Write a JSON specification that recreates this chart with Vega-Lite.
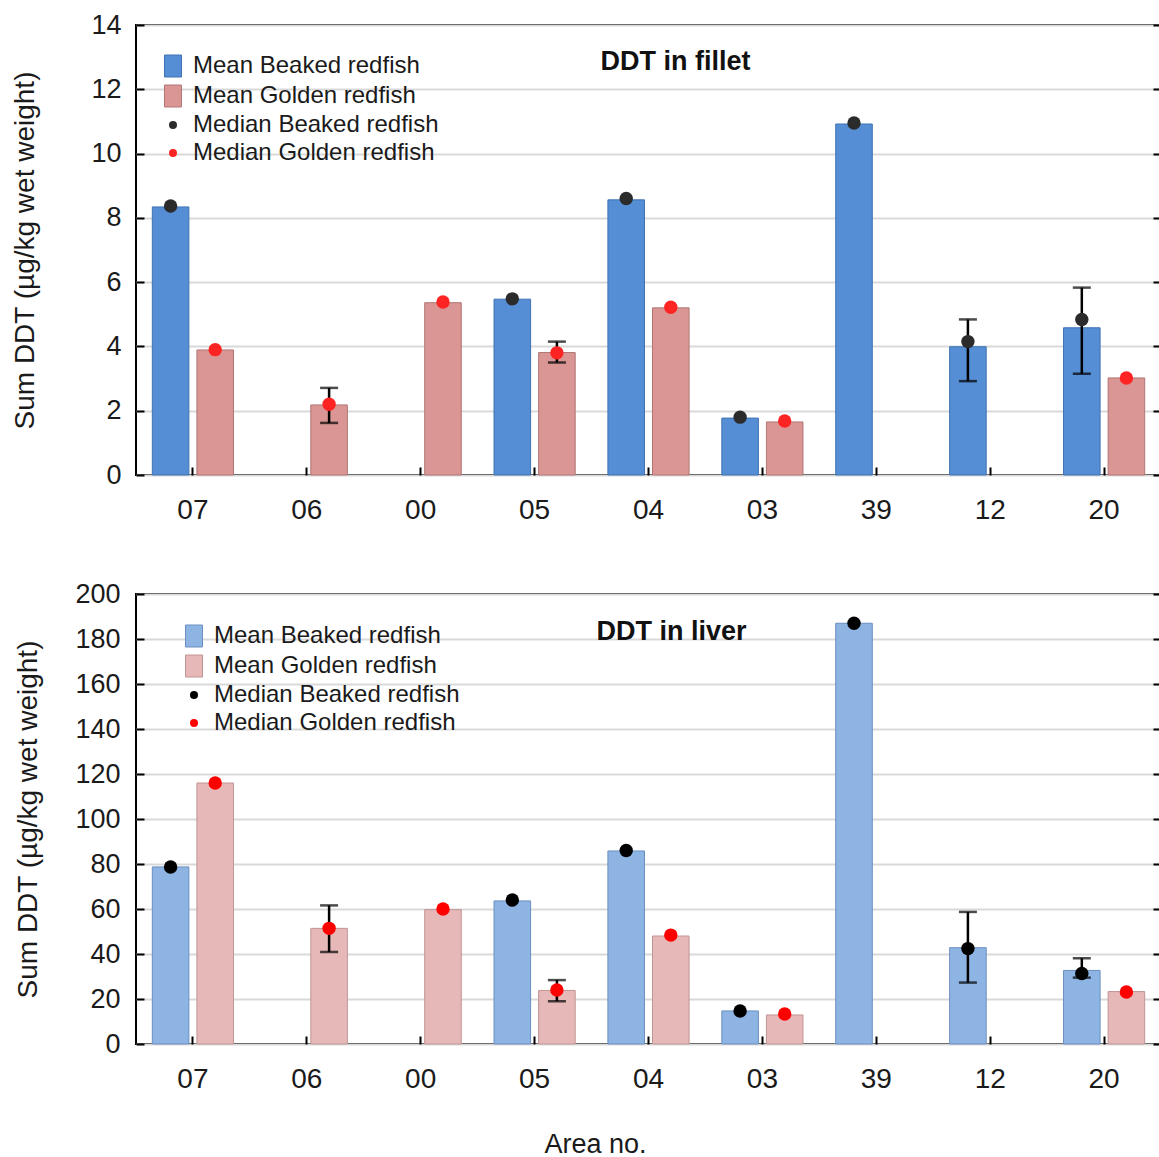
{
  "$schema": "https://vega.github.io/schema/vega-lite/v6.json",
  "padding": {"top": 10, "left": 10, "right": 0, "bottom": 0},
  "background": "white",
  "config": {
    "font": "Liberation Sans",
    "view": {"stroke": "#000", "strokeWidth": 2},
    "axis": {"domain": false, "grid": false, "tickColor": "#000", "tickWidth": 2, "tickSize": -8, "labelColor": "#1a1a1a", "titleColor": "#1a1a1a", "titleFontWeight": "normal", "labelFontSize": 27, "titleFontSize": 28},
    "axisY": {"grid": true, "gridColor": "#d9d9d9", "gridWidth": 2}
  },
  "resolve": {"scale": {"x": "independent", "y": "independent", "color": "independent", "stroke": "independent", "xOffset": "independent"}, "legend": {"color": "independent"}},
  "spacing": 54,
  "datasets": {
    "fillet": [
      {"area": "07", "species": "Beaked", "stat": "Mean", "series": "Mean Beaked redfish", "value": 8.34},
      {"area": "07", "species": "Golden", "stat": "Mean", "series": "Mean Golden redfish", "value": 3.89},
      {"area": "06", "species": "Golden", "stat": "Mean", "series": "Mean Golden redfish", "value": 2.18, "lo": 1.62, "hi": 2.71},
      {"area": "00", "species": "Golden", "stat": "Mean", "series": "Mean Golden redfish", "value": 5.36},
      {"area": "05", "species": "Beaked", "stat": "Mean", "series": "Mean Beaked redfish", "value": 5.47},
      {"area": "05", "species": "Golden", "stat": "Mean", "series": "Mean Golden redfish", "value": 3.81, "lo": 3.5, "hi": 4.15},
      {"area": "04", "species": "Beaked", "stat": "Mean", "series": "Mean Beaked redfish", "value": 8.56},
      {"area": "04", "species": "Golden", "stat": "Mean", "series": "Mean Golden redfish", "value": 5.2},
      {"area": "03", "species": "Beaked", "stat": "Mean", "series": "Mean Beaked redfish", "value": 1.77},
      {"area": "03", "species": "Golden", "stat": "Mean", "series": "Mean Golden redfish", "value": 1.65},
      {"area": "39", "species": "Beaked", "stat": "Mean", "series": "Mean Beaked redfish", "value": 10.92},
      {"area": "12", "species": "Beaked", "stat": "Mean", "series": "Mean Beaked redfish", "value": 3.99, "lo": 2.92, "hi": 4.84},
      {"area": "20", "species": "Beaked", "stat": "Mean", "series": "Mean Beaked redfish", "value": 4.58, "lo": 3.15, "hi": 5.83},
      {"area": "20", "species": "Golden", "stat": "Mean", "series": "Mean Golden redfish", "value": 3.02},
      {"area": "07", "species": "Beaked", "stat": "Median", "series": "Median Beaked redfish", "value": 8.37},
      {"area": "07", "species": "Golden", "stat": "Median", "series": "Median Golden redfish", "value": 3.9},
      {"area": "06", "species": "Golden", "stat": "Median", "series": "Median Golden redfish", "value": 2.2},
      {"area": "00", "species": "Golden", "stat": "Median", "series": "Median Golden redfish", "value": 5.38},
      {"area": "05", "species": "Beaked", "stat": "Median", "series": "Median Beaked redfish", "value": 5.48},
      {"area": "05", "species": "Golden", "stat": "Median", "series": "Median Golden redfish", "value": 3.8},
      {"area": "04", "species": "Beaked", "stat": "Median", "series": "Median Beaked redfish", "value": 8.6},
      {"area": "04", "species": "Golden", "stat": "Median", "series": "Median Golden redfish", "value": 5.22},
      {"area": "03", "species": "Beaked", "stat": "Median", "series": "Median Beaked redfish", "value": 1.8},
      {"area": "03", "species": "Golden", "stat": "Median", "series": "Median Golden redfish", "value": 1.68},
      {"area": "39", "species": "Beaked", "stat": "Median", "series": "Median Beaked redfish", "value": 10.95},
      {"area": "12", "species": "Beaked", "stat": "Median", "series": "Median Beaked redfish", "value": 4.15},
      {"area": "20", "species": "Beaked", "stat": "Median", "series": "Median Beaked redfish", "value": 4.84},
      {"area": "20", "species": "Golden", "stat": "Median", "series": "Median Golden redfish", "value": 3.02}
    ],
    "liver": [
      {"area": "07", "species": "Beaked", "stat": "Mean", "series": "Mean Beaked redfish", "value": 78.7},
      {"area": "07", "species": "Golden", "stat": "Mean", "series": "Mean Golden redfish", "value": 116},
      {"area": "06", "species": "Golden", "stat": "Mean", "series": "Mean Golden redfish", "value": 51.4, "lo": 40.9, "hi": 61.6},
      {"area": "00", "species": "Golden", "stat": "Mean", "series": "Mean Golden redfish", "value": 59.7},
      {"area": "05", "species": "Beaked", "stat": "Mean", "series": "Mean Beaked redfish", "value": 63.6},
      {"area": "05", "species": "Golden", "stat": "Mean", "series": "Mean Golden redfish", "value": 23.8, "lo": 19, "hi": 28.4},
      {"area": "04", "species": "Beaked", "stat": "Mean", "series": "Mean Beaked redfish", "value": 85.8},
      {"area": "04", "species": "Golden", "stat": "Mean", "series": "Mean Golden redfish", "value": 48},
      {"area": "03", "species": "Beaked", "stat": "Mean", "series": "Mean Beaked redfish", "value": 14.7},
      {"area": "03", "species": "Golden", "stat": "Mean", "series": "Mean Golden redfish", "value": 12.9},
      {"area": "39", "species": "Beaked", "stat": "Mean", "series": "Mean Beaked redfish", "value": 187},
      {"area": "12", "species": "Beaked", "stat": "Mean", "series": "Mean Beaked redfish", "value": 42.8, "lo": 27.3, "hi": 58.7},
      {"area": "20", "species": "Beaked", "stat": "Mean", "series": "Mean Beaked redfish", "value": 32.7, "lo": 29.5, "hi": 38.1},
      {"area": "20", "species": "Golden", "stat": "Mean", "series": "Mean Golden redfish", "value": 23.3},
      {"area": "07", "species": "Beaked", "stat": "Median", "series": "Median Beaked redfish", "value": 78.7},
      {"area": "07", "species": "Golden", "stat": "Median", "series": "Median Golden redfish", "value": 116},
      {"area": "06", "species": "Golden", "stat": "Median", "series": "Median Golden redfish", "value": 51.4},
      {"area": "00", "species": "Golden", "stat": "Median", "series": "Median Golden redfish", "value": 60},
      {"area": "05", "species": "Beaked", "stat": "Median", "series": "Median Beaked redfish", "value": 64},
      {"area": "05", "species": "Golden", "stat": "Median", "series": "Median Golden redfish", "value": 24},
      {"area": "04", "species": "Beaked", "stat": "Median", "series": "Median Beaked redfish", "value": 86},
      {"area": "04", "species": "Golden", "stat": "Median", "series": "Median Golden redfish", "value": 48.4},
      {"area": "03", "species": "Beaked", "stat": "Median", "series": "Median Beaked redfish", "value": 14.7},
      {"area": "03", "species": "Golden", "stat": "Median", "series": "Median Golden redfish", "value": 13.3},
      {"area": "39", "species": "Beaked", "stat": "Median", "series": "Median Beaked redfish", "value": 187},
      {"area": "12", "species": "Beaked", "stat": "Median", "series": "Median Beaked redfish", "value": 42.4},
      {"area": "20", "species": "Beaked", "stat": "Median", "series": "Median Beaked redfish", "value": 31.3},
      {"area": "20", "species": "Golden", "stat": "Median", "series": "Median Golden redfish", "value": 23.1}
    ]
  },
  "vconcat": [
    {
      "width": 1025,
      "height": 450,
      "data": {"name": "fillet"},
      "title": {"text": "DDT in fillet", "fontSize": 27, "fontWeight": "bold", "color": "#111", "anchor": "middle", "frame": "group", "offset": -36, "baseline": "middle", "dx": 27, "dy": 42},
      "resolve": {"axis": {"y": "independent"}},
      "encoding": {
        "x": {"field": "area", "type": "nominal", "sort": ["07", "06", "00", "05", "04", "03", "39", "12", "20"], "scale": {"paddingInner": 0.217, "paddingOuter": 0.108}, "axis": {"title": null, "labelAngle": 0, "labelPadding": 29, "labelFontSize": 28}},
        "xOffset": {"field": "species", "type": "nominal", "scale": {"domain": ["Beaked", "Golden"], "paddingInner": 0.18, "paddingOuter": 0.09}}
      },
      "layer": [
        {
          "transform": [{"filter": "datum.stat == 'Mean'"}],
          "mark": {"type": "bar", "strokeWidth": 1},
          "encoding": {
            "y": {"field": "value", "type": "quantitative", "title": "Sum DDT (µg/kg wet weight)", "scale": {"domain": [0, 14]}, "axis": {"values": [0, 2, 4, 6, 8, 10, 12, 14], "labelPadding": 23, "titlePadding": 51}},
            "color": {"field": "series", "type": "nominal", "scale": {"domain": ["Mean Beaked redfish", "Mean Golden redfish", "Median Beaked redfish", "Median Golden redfish"], "range": ["#558ed5", "#d99694", "#2b2b2b", "#ff2424"]},
              "legend": {"title": null, "orient": "none", "legendX": 25, "legendY": 29, "labelFontSize": 24, "labelLimit": 0, "labelColor": "#1a1a1a", "labelOffset": 8, "rowPadding": 4, "symbolSize": 484, "symbolOpacity": 1,
                "encode": {"symbols": {"update": {"shape": {"signal": "datum.index < 2 ? 'M-0.77,-1H0.77V1H-0.77Z' : 'circle'"}, "size": {"signal": "datum.index < 2 ? 484 : 64"}, "stroke": {"signal": "datum.index == 0 ? '#3f72b3' : datum.index == 1 ? '#b07674' : 'transparent'"}, "strokeWidth": {"value": 1}, "opacity": {"value": 1}}}}}},
            "stroke": {"field": "species", "type": "nominal", "scale": {"domain": ["Beaked", "Golden"], "range": ["#3f72b3", "#b07674"]}, "legend": null}
          }
        },
        {
          "transform": [{"filter": "isValid(datum.lo)"}],
          "mark": {"type": "rule", "strokeWidth": 2.5, "color": "#000"},
          "encoding": {
            "y": {"field": "lo", "type": "quantitative", "scale": {"domain": [0, 14]}, "axis": null},
            "y2": {"field": "hi"}
          }
        },
        {
          "transform": [{"filter": "isValid(datum.lo)"}],
          "mark": {"type": "tick", "thickness": 2.5, "size": 18, "color": "#000"},
          "encoding": {
            "y": {"field": "lo", "type": "quantitative", "scale": {"domain": [0, 14]}, "axis": null}
          }
        },
        {
          "transform": [{"filter": "isValid(datum.hi)"}],
          "mark": {"type": "tick", "thickness": 2.5, "size": 18, "color": "#000"},
          "encoding": {
            "y": {"field": "hi", "type": "quantitative", "scale": {"domain": [0, 14]}, "axis": null}
          }
        },
        {
          "transform": [{"filter": "datum.stat == 'Median'"}],
          "mark": {"type": "point", "filled": true, "opacity": 1, "size": 180, "shape": "circle"},
          "encoding": {
            "y": {"field": "value", "type": "quantitative", "scale": {"domain": [0, 14]}, "axis": {"orient": "right", "title": null, "labels": false, "grid": false, "values": [0, 2, 4, 6, 8, 10, 12, 14]}},
            "color": {"field": "series", "type": "nominal"}
          }
        }
      ]
    },
    {
      "width": 1025,
      "height": 450,
      "data": {"name": "liver"},
      "title": {"text": "DDT in liver", "fontSize": 27, "fontWeight": "bold", "color": "#111", "anchor": "middle", "frame": "group", "offset": -37, "baseline": "middle", "dx": 23, "dy": 42},
      "resolve": {"axis": {"y": "independent"}},
      "encoding": {
        "x": {"field": "area", "type": "nominal", "sort": ["07", "06", "00", "05", "04", "03", "39", "12", "20"], "scale": {"paddingInner": 0.217, "paddingOuter": 0.108}, "axis": {"title": "Area no.", "titleFontSize": 27, "titleX": 459, "titlePadding": 38, "labelAngle": 0, "labelPadding": 29, "labelFontSize": 28}},
        "xOffset": {"field": "species", "type": "nominal", "scale": {"domain": ["Beaked", "Golden"], "paddingInner": 0.18, "paddingOuter": 0.09}}
      },
      "layer": [
        {
          "transform": [{"filter": "datum.stat == 'Mean'"}],
          "mark": {"type": "bar", "strokeWidth": 1},
          "encoding": {
            "y": {"field": "value", "type": "quantitative", "title": "Sum DDT (µg/kg wet weight)", "scale": {"domain": [0, 200]}, "axis": {"values": [0, 20, 40, 60, 80, 100, 120, 140, 160, 180, 200], "labelPadding": 24, "titlePadding": 32}},
            "color": {"field": "series", "type": "nominal", "scale": {"domain": ["Mean Beaked redfish", "Mean Golden redfish", "Median Beaked redfish", "Median Golden redfish"], "range": ["#8db4e2", "#e6b9b8", "#000000", "#ff0000"]},
              "legend": {"title": null, "orient": "none", "legendX": 46, "legendY": 30, "labelFontSize": 24, "labelLimit": 0, "labelColor": "#1a1a1a", "labelOffset": 8, "rowPadding": 4, "symbolSize": 484, "symbolOpacity": 1,
                "encode": {"symbols": {"update": {"shape": {"signal": "datum.index < 2 ? 'M-0.77,-1H0.77V1H-0.77Z' : 'circle'"}, "size": {"signal": "datum.index < 2 ? 484 : 64"}, "stroke": {"signal": "datum.index == 0 ? '#6a8fc0' : datum.index == 1 ? '#c09594' : 'transparent'"}, "strokeWidth": {"value": 1}, "opacity": {"value": 1}}}}}},
            "stroke": {"field": "species", "type": "nominal", "scale": {"domain": ["Beaked", "Golden"], "range": ["#6a8fc0", "#c09594"]}, "legend": null}
          }
        },
        {
          "transform": [{"filter": "isValid(datum.lo)"}],
          "mark": {"type": "rule", "strokeWidth": 2.5, "color": "#000"},
          "encoding": {
            "y": {"field": "lo", "type": "quantitative", "scale": {"domain": [0, 200]}, "axis": null},
            "y2": {"field": "hi"}
          }
        },
        {
          "transform": [{"filter": "isValid(datum.lo)"}],
          "mark": {"type": "tick", "thickness": 2.5, "size": 18, "color": "#000"},
          "encoding": {
            "y": {"field": "lo", "type": "quantitative", "scale": {"domain": [0, 200]}, "axis": null}
          }
        },
        {
          "transform": [{"filter": "isValid(datum.hi)"}],
          "mark": {"type": "tick", "thickness": 2.5, "size": 18, "color": "#000"},
          "encoding": {
            "y": {"field": "hi", "type": "quantitative", "scale": {"domain": [0, 200]}, "axis": null}
          }
        },
        {
          "transform": [{"filter": "datum.stat == 'Median'"}],
          "mark": {"type": "point", "filled": true, "opacity": 1, "size": 180, "shape": "circle"},
          "encoding": {
            "y": {"field": "value", "type": "quantitative", "scale": {"domain": [0, 200]}, "axis": {"orient": "right", "title": null, "labels": false, "grid": false, "values": [0, 20, 40, 60, 80, 100, 120, 140, 160, 180, 200]}},
            "color": {"field": "series", "type": "nominal"}
          }
        }
      ]
    }
  ]
}
